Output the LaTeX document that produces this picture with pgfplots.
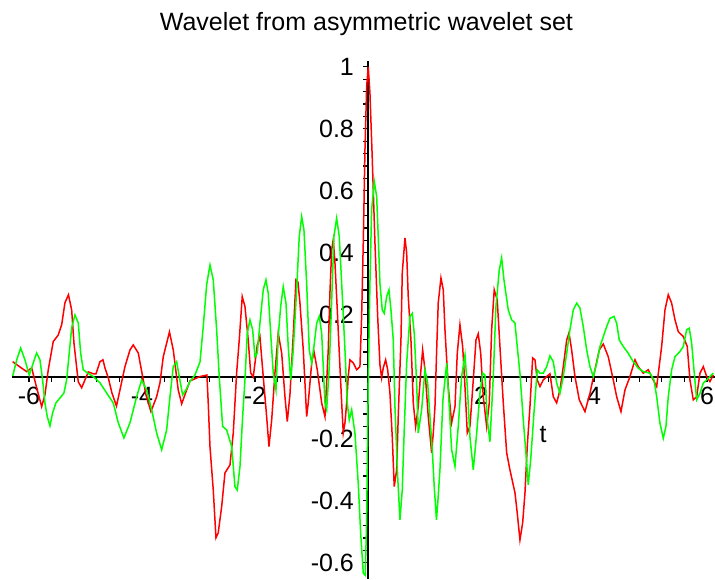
\documentclass[border=0pt]{standalone}
\usepackage{pgfplots}
\pgfplotsset{compat=1.18}
\usepackage{fontspec}
\setmainfont{Liberation Sans}
\begin{document}
\begin{tikzpicture}
\path[use as bounding box] (-6pt,0pt) rectangle (351.5pt,289.5pt);
\begin{axis}[
  anchor=south west, at={(0pt,0pt)},
  x=28.25pt, y=155pt,
  scale only axis,
  xmin=-6.30, xmax=6.14, ymin=-0.652, ymax=1.02,
  axis lines=middle,
  axis line style={-, line width=0.8pt, black},
  clip=false,
  xtick={-6,-4,-2,0,2,4,6},
  xticklabels={-6,-4,-2,,2,4,6},
  ytick={-0.6,-0.4,-0.2,0,0.2,0.4,0.6,0.8,1},
  yticklabels={-0.6,-0.4,-0.2,0,0.2,0.4,0.6,0.8,1},
  minor tick num=4,
  tick align=outside,
  major tick length=2.5pt, minor tick length=2.5pt,
  tick style={black, line width=0.6pt},
  tick label style={font=\fontsize{12.5}{13}\selectfont},
  xticklabel style={anchor=north, yshift=1pt},
  yticklabel style={anchor=east, xshift=-1pt},
  title={Wavelet from asymmetric wavelet set},
  title style={at={(0.5,1)}, anchor=center, yshift=12.5pt, xshift=1.5pt, font=\fontsize{12.5}{13}\selectfont},
  xlabel={t},
  xlabel style={at={(axis cs:3.10,-0.187)}, anchor=center, font=\fontsize{12.5}{13}\selectfont},
]
\addplot[color={rgb,255:red,255;green,0;blue,0}, line width=0.75pt] coordinates {
(-6.288,0.049)(-6.159,0.032)(-6.041,0.017)(-5.952,0.029)(-5.876,-0.026)(-5.775,-0.096)(-5.717,-0.058)(-5.658,0.023)(-5.570,0.114)(-5.481,0.135)(-5.421,0.168)(-5.363,0.239)(-5.301,0.265)(-5.244,0.216)(-5.204,0.110)(-5.127,-0.016)(-5.067,-0.035)(-5.009,-0.010)(-4.950,0.016)(-4.862,0.010)(-4.814,0.010)(-4.743,0.049)(-4.690,0.055)(-4.655,0.029)(-4.596,-0.003)(-4.531,-0.052)(-4.451,-0.094)(-4.389,-0.042)(-4.301,0.033)(-4.212,0.087)(-4.154,0.103)(-4.065,0.077)(-3.988,0.001)(-3.929,-0.058)(-3.841,-0.112)(-3.740,-0.064)(-3.681,-0.019)(-3.623,0.065)(-3.513,0.145)(-3.446,0.087)(-3.358,-0.042)(-3.297,-0.087)(-3.209,-0.042)(-3.150,-0.013)(-2.973,0.001)(-2.850,0.006)(-2.827,-0.084)(-2.796,-0.225)(-2.738,-0.365)(-2.690,-0.519)(-2.650,-0.503)(-2.589,-0.418)(-2.531,-0.310)(-2.442,-0.284)(-2.384,-0.181)(-2.324,0.013)(-2.278,0.119)(-2.225,0.259)(-2.177,0.227)(-2.119,0.119)(-2.076,0.013)(-2.030,0)(-1.959,0.103)(-1.912,0.130)(-1.853,0)(-1.793,-0.128)(-1.752,-0.225)(-1.704,-0.139)(-1.646,0.013)(-1.588,0.141)(-1.527,0.077)(-1.469,-0.064)(-1.428,-0.144)(-1.381,-0.058)(-1.327,0.119)(-1.274,0.313)(-1.239,0.306)(-1.204,0.239)(-1.145,0.087)(-1.115,-0.019)(-1.085,-0.128)(-1.057,-0.084)(-0.996,0.045)(-0.956,0.082)(-0.897,0.023)(-0.819,-0.084)(-0.761,-0.128)(-0.703,0.087)(-0.673,0.271)(-0.642,0.410)(-0.614,0.442)(-0.584,0.368)(-0.543,0.216)(-0.496,0.033)(-0.465,-0.084)(-0.437,-0.181)(-0.407,-0.148)(-0.377,-0.084)(-0.349,0.001)(-0.319,0.055)(-0.260,0.045)(-0.200,0.023)(-0.142,0.033)(-0.112,0.195)(-0.083,0.432)(-0.053,0.732)(-0.023,0.937)(0.005,1.0)(0.035,0.916)(0.076,0.706)(0.124,0.432)(0.172,0.195)(0.212,0.039)(0.242,-0.003)(0.271,0.029)(0.313,0.055)(0.349,0.023)(0.389,-0.052)(0.430,-0.193)(0.465,-0.354)(0.508,-0.300)(0.536,-0.128)(0.584,0.119)(0.607,0.335)(0.655,0.448)(0.685,0.400)(0.713,0.259)(0.761,0.119)(0.802,-0.084)(0.844,-0.160)(0.890,-0.096)(0.933,0.013)(0.968,0.087)(1.009,0.023)(1.067,-0.128)(1.127,-0.245)(1.156,-0.181)(1.186,-0.096)(1.216,0.087)(1.244,0.239)(1.292,0.319)(1.333,0.281)(1.363,0.152)(1.421,-0.031)(1.481,-0.148)(1.540,-0.096)(1.581,0.077)(1.628,0.168)(1.676,0.098)(1.717,-0.031)(1.758,-0.181)(1.805,-0.160)(1.864,-0.010)(1.912,0.119)(1.952,0.139)(1.995,0.077)(2.041,-0.064)(2.101,-0.160)(2.147,-0.084)(2.189,0.152)(2.235,0.281)(2.288,0.248)(2.336,0.098)(2.395,-0.084)(2.455,-0.245)(2.513,-0.300)(2.602,-0.374)(2.642,-0.439)(2.690,-0.526)(2.738,-0.471)(2.779,-0.374)(2.819,-0.225)(2.867,-0.096)(2.915,0.061)(2.956,0.055)(2.996,-0.010)(3.044,-0.031)(3.103,-0.010)(3.163,0.001)(3.221,0.010)(3.280,-0.064)(3.340,-0.084)(3.398,-0.042)(3.457,0.033)(3.517,0.119)(3.558,0.142)(3.605,0.087)(3.664,0.001)(3.740,-0.074)(3.841,-0.112)(3.929,-0.053)(4.018,0.023)(4.094,0.087)(4.165,0.106)(4.253,0.065)(4.342,-0.010)(4.402,-0.064)(4.478,-0.112)(4.549,-0.042)(4.637,0.001)(4.726,0.055)(4.784,0.033)(4.873,0.012)(4.961,0.023)(5.050,-0.010)(5.110,-0.031)(5.198,0.098)(5.257,0.216)(5.315,0.265)(5.375,0.238)(5.434,0.184)(5.492,0.146)(5.581,0.130)(5.651,0.098)(5.699,-0.010)(5.758,-0.074)(5.818,-0.064)(5.876,0.012)(5.935,0.033)(5.995,0.001)(6.053,-0.015)(6.112,0.006)
};
\addplot[color={rgb,255:red,0;green,255;blue,0}, line width=0.75pt] coordinates {
(-6.288,0.003)(-6.218,0.054)(-6.147,0.093)(-6.071,0.055)(-5.995,0.006)(-5.924,0.045)(-5.864,0.077)(-5.805,0.055)(-5.758,-0.010)(-5.717,-0.084)(-5.676,-0.128)(-5.628,-0.158)(-5.581,-0.116)(-5.522,-0.084)(-5.451,-0.068)(-5.381,-0.052)(-5.333,-0.010)(-5.287,0.077)(-5.244,0.158)(-5.186,0.200)(-5.127,0.174)(-5.085,0.077)(-5.039,0.023)(-4.968,0.013)(-4.862,0.001)(-4.743,-0.019)(-4.625,-0.052)(-4.508,-0.084)(-4.419,-0.148)(-4.319,-0.197)(-4.212,-0.148)(-4.094,-0.064)(-4.005,-0.010)(-3.917,-0.042)(-3.828,-0.106)(-3.740,-0.181)(-3.651,-0.235)(-3.563,-0.171)(-3.504,-0.064)(-3.446,0.033)(-3.386,0.049)(-3.340,0.001)(-3.280,-0.058)(-3.221,-0.042)(-3.150,-0.015)(-3.062,0.006)(-2.973,0.048)(-2.915,0.162)(-2.855,0.297)(-2.796,0.361)(-2.738,0.313)(-2.678,0.152)(-2.632,0.001)(-2.572,-0.160)(-2.501,-0.171)(-2.412,-0.225)(-2.354,-0.354)(-2.313,-0.365)(-2.265,-0.289)(-2.218,-0.128)(-2.177,-0.010)(-2.136,0.141)(-2.088,0.184)(-2.041,0.152)(-2.000,0.065)(-1.959,0.077)(-1.912,0.173)(-1.853,0.281)(-1.805,0.313)(-1.765,0.270)(-1.722,0.141)(-1.676,0.012)(-1.628,-0.042)(-1.588,0.130)(-1.545,0.227)(-1.499,0.291)(-1.451,0.238)(-1.411,0.098)(-1.368,-0.010)(-1.322,0.087)(-1.262,0.281)(-1.216,0.453)(-1.173,0.517)(-1.133,0.474)(-1.085,0.302)(-1.039,0.087)(-0.996,0.045)(-0.956,0.098)(-0.908,0.173)(-0.862,0.195)(-0.819,0.141)(-0.791,0.033)(-0.761,-0.084)(-0.731,-0.106)(-0.685,0.033)(-0.642,0.248)(-0.602,0.453)(-0.554,0.512)(-0.508,0.453)(-0.465,0.302)(-0.407,0.087)(-0.366,-0.084)(-0.331,-0.139)(-0.288,-0.106)(-0.230,-0.182)(-0.172,-0.343)(-0.129,-0.504)(-0.083,-0.633)(-0.048,-0.640)(-0.023,-0.461)(0.005,-0.020)(0.035,0.302)(0.065,0.539)(0.112,0.630)(0.154,0.582)(0.182,0.453)(0.212,0.302)(0.253,0.216)(0.288,0.205)(0.331,0.259)(0.372,0.281)(0.407,0.216)(0.448,0.119)(0.478,-0.096)(0.526,-0.322)(0.566,-0.461)(0.607,-0.365)(0.642,-0.171)(0.685,0.044)(0.743,0.195)(0.784,0.205)(0.819,0.141)(0.862,-0.020)(0.890,-0.181)(0.950,-0.106)(1.009,0.023)(1.057,-0.020)(1.097,-0.128)(1.138,-0.235)(1.173,-0.354)(1.212,-0.461)(1.239,-0.397)(1.274,-0.300)(1.327,-0.074)(1.393,0.044)(1.439,-0.096)(1.481,-0.235)(1.540,-0.289)(1.598,-0.160)(1.658,0.001)(1.717,0.071)(1.758,-0.031)(1.805,-0.193)(1.864,-0.300)(1.924,-0.182)(1.982,-0.053)(2.030,0.012)(2.071,0.006)(2.112,-0.139)(2.159,-0.209)(2.218,0.001)(2.265,0.227)(2.324,0.345)(2.366,0.384)(2.407,0.313)(2.483,0.216)(2.543,0.184)(2.602,0.174)(2.642,0.098)(2.690,0.012)(2.749,-0.139)(2.796,-0.246)(2.837,-0.348)(2.880,-0.268)(2.938,-0.117)(2.996,0.023)(3.044,0.012)(3.103,0.012)(3.163,0.033)(3.221,0.068)(3.280,0.049)(3.340,-0.020)(3.398,-0.053)(3.457,0.001)(3.517,0.076)(3.575,0.152)(3.634,0.216)(3.694,0.238)(3.752,0.222)(3.811,0.162)(3.871,0.087)(3.929,0.033)(3.988,0.001)(4.048,0.044)(4.106,0.098)(4.165,0.130)(4.225,0.162)(4.283,0.189)(4.354,0.195)(4.402,0.173)(4.448,0.119)(4.519,0.098)(4.607,0.076)(4.696,0.049)(4.784,0.028)(4.873,0.017)(4.991,0.012)(5.062,-0.010)(5.110,-0.064)(5.168,-0.149)(5.227,-0.198)(5.274,-0.160)(5.315,-0.064)(5.375,0.023)(5.434,0.065)(5.522,0.082)(5.581,0.098)(5.640,0.152)(5.687,0.157)(5.729,0.109)(5.770,0.023)(5.818,-0.074)(5.876,-0.053)(5.935,-0.020)(5.995,-0.010)(6.053,0.001)(6.112,0.012)
};
\end{axis}
\end{tikzpicture}
\end{document}
